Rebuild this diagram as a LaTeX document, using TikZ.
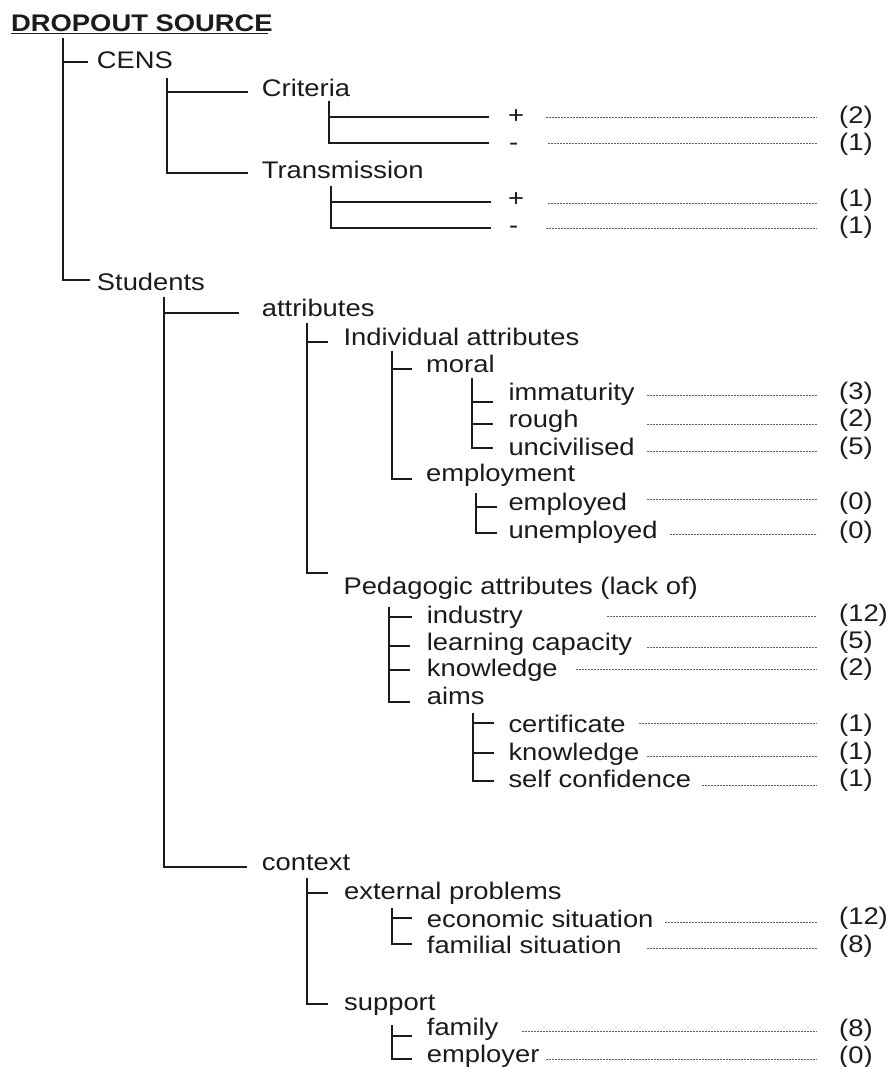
\documentclass[tikz,border=0pt]{standalone}
\usepackage{fontspec}
\setmainfont{Liberation Sans}[FakeStretch=1.14]
\definecolor{ink}{HTML}{1C1A1B}
\definecolor{leadgray}{HTML}{5E5E5E}

\begin{document}
\begin{tikzpicture}[
  x=1pt, y=-1pt,
  lbl/.style={anchor=base west, inner sep=0pt, font=\fontsize{24}{28}\selectfont, text=ink},
  cnt/.style={lbl, inner xsep=22pt},
  tree/.style={draw=ink, line width=1.9pt},
  lead/.style={draw=leadgray, line width=0.6pt, dash pattern=on 2pt off 1pt},
]

% Page
\useasboundingbox (0,0) rectangle (888,1067);
\fill[white] (0,0) rectangle (888,1067);

% Title
\node[lbl, font=\fontsize{24}{28}\selectfont\bfseries] (title) at (11,31.7) {DROPOUT SOURCE};
\draw[ink, line width=1.5pt] ([yshift=-1.8pt]title.base west) -- ([yshift=-1.8pt,xshift=-5pt]title.base east);

% === Root ===
\coordinate (t-root) at (63.3,38.3);
\node[lbl] (cens) at (96.7,68.3) {CENS};
\node[lbl] (students) at (96.7,290) {Students};
\draw[tree] (t-root) |- ([xshift=-8.4pt,yshift=6pt]cens.base west);
\draw[tree] (t-root) |- ([xshift=-6.7pt,yshift=10pt]students.base west);

% === CENS ===
\coordinate (t-cens) at (166.7,78.3);
\node[lbl] (criteria) at (261.7,96.7) {Criteria};
\node[lbl] (transm) at (261.7,179) {Transmission};
\draw[tree] (t-cens) |- ([xshift=-13.4pt,yshift=4.4pt]criteria.base west);
\draw[tree] (t-cens) |- ([xshift=-13.4pt,yshift=6.3pt]transm.base west);

% Criteria
\coordinate (t-crit) at (329.3,100.7);
\node[lbl] (crit-p) at (508,124) {+};
\node[lbl] (crit-m) at (509,150.5) {-};
\draw[tree] (t-crit) |- ([xshift=-19pt,yshift=6.7pt]crit-p.base west);
\draw[tree] (t-crit) |- ([xshift=-20pt,yshift=7.8pt]crit-m.base west);
\node[cnt] (n-crit-p) at (817,124) {(2)};
\node[cnt] (n-crit-m) at (817,150.5) {(1)};
\coordinate (d-crit-p) at (545.7,117.7);
\coordinate (d-crit-m) at (548,143);
\draw[lead] (d-crit-p) -- (d-crit-p -| n-crit-p.west);
\draw[lead] (d-crit-m) -- (d-crit-m -| n-crit-m.west);

% Transmission
\coordinate (t-trans) at (331,186);
\node[lbl] (trans-p) at (508,207) {+};
\node[lbl] (trans-m) at (509,233.7) {-};
\draw[tree] (t-trans) |- ([xshift=-17pt,yshift=5.3pt]trans-p.base west);
\draw[tree] (t-trans) |- ([xshift=-18pt,yshift=6pt]trans-m.base west);
\node[cnt] (n-trans-p) at (817,207) {(1)};
\node[cnt] (n-trans-m) at (817,233.7) {(1)};
\coordinate (d-trans-p) at (548,203);
\coordinate (d-trans-m) at (546,228);
\draw[lead] (d-trans-p) -- (d-trans-p -| n-trans-p.west);
\draw[lead] (d-trans-m) -- (d-trans-m -| n-trans-m.west);

% === Students ===
\coordinate (t-stud) at (164,296.7);
\node[lbl] (attr) at (261.7,316.7) {attributes};
\node[lbl] (context) at (261.7,870.7) {context};
\draw[tree] (t-stud) |- ([xshift=-22.4pt,yshift=3.4pt]attr.base west);
\draw[tree] (t-stud) |- ([xshift=-15pt,yshift=3.4pt]context.base west);

% attributes
\coordinate (t-attr) at (307.3,323.3);
\node[lbl] (indiv) at (343.3,345) {Individual attributes};
\node[lbl] (peda) at (343.3,594.3) {Pedagogic attributes (lack of)};
\draw[tree] (t-attr) |- ([xshift=-15.6pt,yshift=3.3pt]indiv.base west);
\draw[tree] (t-attr) |- ([xshift=-15.6pt,yshift=21.6pt]peda.base west);

% Individual attributes
\coordinate (t-indiv) at (392.3,350.7);
\node[lbl] (moral) at (426,372.7) {moral};
\node[lbl] (employ) at (426,481.7) {employment};
\draw[tree] (t-indiv) |- ([xshift=-13.7pt,yshift=3.4pt]moral.base west);
\draw[tree] (t-indiv) |- ([xshift=-13.7pt,yshift=2.7pt]employ.base west);

% moral
\coordinate (t-moral) at (472.3,378.3);
\node[lbl] (immat) at (508.3,400.7) {immaturity};
\node[lbl] (rough) at (508.3,427.3) {rough};
\node[lbl] (uncivil) at (508.3,455.7) {uncivilised};
\draw[tree] (t-moral) |- ([xshift=-15pt,yshift=-1pt]immat.base west);
\draw[tree] (t-moral) |- ([xshift=-15pt,yshift=3.3pt]rough.base west);
\draw[tree] (t-moral) |- ([xshift=-15pt,yshift=7.4pt]uncivil.base west);
\node[cnt] (n-immat) at (817,399) {(3)};
\node[cnt] (n-rough) at (817,426.2) {(2)};
\node[cnt] (n-uncivil) at (817,454.5) {(5)};
\coordinate (d-immat) at (647.3,395);
\coordinate (d-rough) at (647.3,424);
\coordinate (d-uncivil) at (647.3,451.7);
\draw[lead] (d-immat) -- (d-immat -| n-immat.west);
\draw[lead] (d-rough) -- (d-rough -| n-rough.west);
\draw[lead] (d-uncivil) -- (d-uncivil -| n-uncivil.west);

% employment
\coordinate (t-employ) at (476.3,493.3);
\node[lbl] (employed) at (508.3,510) {employed};
\node[lbl] (unemployed) at (508.3,538.3) {unemployed};
\draw[tree] (t-employ) |- ([xshift=-11pt,yshift=3.3pt]employed.base west);
\draw[tree] (t-employ) |- ([xshift=-11pt,yshift=5pt]unemployed.base west);
\node[cnt] (n-employed) at (817,509) {(0)};
\node[cnt] (n-unemployed) at (817,538) {(0)};
\coordinate (d-employed) at (647.3,499.3);
\coordinate (d-unemployed) at (670,534);
\draw[lead] (d-employed) -- (d-employed -| n-employed.west);
\draw[lead] (d-unemployed) -- (d-unemployed -| n-unemployed.west);

% Pedagogic attributes
\coordinate (t-peda) at (389.3,606.7);
\node[lbl] (industry) at (426.7,623.3) {industry};
\node[lbl] (learning) at (426.7,650.7) {learning capacity};
\node[lbl] (knowl) at (426.7,676.7) {knowledge};
\node[lbl] (aims) at (426.7,704) {aims};
\draw[tree] (t-peda) |- ([xshift=-15pt,yshift=6pt]industry.base west);
\draw[tree] (t-peda) |- ([xshift=-16.7pt,yshift=5pt]learning.base west);
\draw[tree] (t-peda) |- ([xshift=-16.7pt,yshift=6.7pt]knowl.base west);
\draw[tree] (t-peda) |- ([xshift=-16.7pt,yshift=2.3pt]aims.base west);
\node[cnt] (n-industry) at (817,621) {(12)};
\node[cnt] (n-learning) at (817,648) {(5)};
\node[cnt] (n-knowl) at (817,675.5) {(2)};
\coordinate (d-industry) at (607.3,616.7);
\coordinate (d-learning) at (647.3,647.3);
\coordinate (d-knowl) at (576.3,669.3);
\draw[lead] (d-industry) -- (d-industry -| n-industry.west);
\draw[lead] (d-learning) -- (d-learning -| n-learning.west);
\draw[lead] (d-knowl) -- (d-knowl -| n-knowl.west);

% aims
\coordinate (t-aims) at (473.3,713.3);
\node[lbl] (cert) at (508.3,732.3) {certificate};
\node[lbl] (knowl2) at (508.3,760.7) {knowledge};
\node[lbl] (selfconf) at (508.3,787.3) {self confidence};
\draw[tree] (t-aims) |- ([xshift=-14.3pt,yshift=9pt]cert.base west);
\draw[tree] (t-aims) |- ([xshift=-14.3pt,yshift=7.4pt]knowl2.base west);
\draw[tree] (t-aims) |- ([xshift=-14.3pt,yshift=6.6pt]selfconf.base west);
\node[cnt] (n-cert) at (817,731) {(1)};
\node[cnt] (n-knowl2) at (817,759.5) {(1)};
\node[cnt] (n-selfconf) at (817,786) {(1)};
\coordinate (d-cert) at (639,723.3);
\coordinate (d-knowl2) at (647.3,756.7);
\coordinate (d-selfconf) at (702.3,785);
\draw[lead] (d-cert) -- (d-cert -| n-cert.west);
\draw[lead] (d-knowl2) -- (d-knowl2 -| n-knowl2.west);
\draw[lead] (d-selfconf) -- (d-selfconf -| n-selfconf.west);

% context
\coordinate (t-ctx) at (307.3,878.3);
\node[lbl] (extern) at (344,899) {external problems};
\node[lbl] (support) at (344,1010) {support};
\draw[tree] (t-ctx) |- ([xshift=-15.7pt,yshift=5.7pt]extern.base west);
\draw[tree] (t-ctx) |- ([xshift=-15.7pt,yshift=6pt]support.base west);

% external problems
\coordinate (t-ext) at (392.3,908.3);
\node[lbl] (econ) at (426.7,927.3) {economic situation};
\node[lbl] (famil) at (426.7,953.3) {familial situation};
\draw[tree] (t-ext) |- ([xshift=-14.4pt,yshift=9pt]econ.base west);
\draw[tree] (t-ext) |- ([xshift=-14.4pt,yshift=9.3pt]famil.base west);
\node[cnt] (n-econ) at (817,924.5) {(12)};
\node[cnt] (n-famil) at (817,952) {(8)};
\coordinate (d-econ) at (664.7,922.7);
\coordinate (d-famil) at (647.3,948.3);
\draw[lead] (d-econ) -- (d-econ -| n-econ.west);
\draw[lead] (d-famil) -- (d-famil -| n-famil.west);

% support
\coordinate (t-supp) at (392.3,1025);
\node[lbl] (family) at (426.7,1035.7) {family};
\node[lbl] (employer) at (426.7,1062.7) {employer};
\draw[tree] (t-supp) |- ([xshift=-14.4pt]family.base west);
\draw[tree] (t-supp) |- ([xshift=-14.4pt,yshift=3.4pt]employer.base west);
\node[cnt] (n-family) at (817,1036) {(8)};
\node[cnt] (n-employer) at (817,1063) {(0)};
\coordinate (d-family) at (521.7,1031);
\coordinate (d-employer) at (545.7,1059);
\draw[lead] (d-family) -- (d-family -| n-family.west);
\draw[lead] (d-employer) -- (d-employer -| n-employer.west);

\end{tikzpicture}
\end{document}
